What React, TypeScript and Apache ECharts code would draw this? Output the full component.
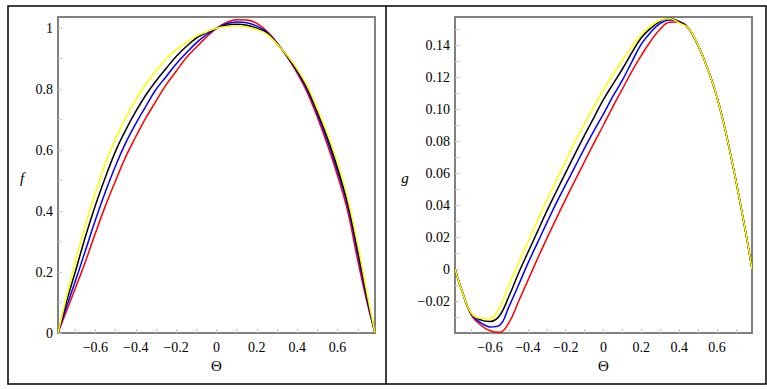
import React, { useEffect, useRef } from "react";
import * as echarts from "echarts";

const Q = Math.PI / 4;

const theta: number[] = [-Q, -0.75, -0.7, -0.65, -0.6, -0.55, -0.5, -0.45, -0.4, -0.35, -0.3, -0.25, -0.2, -0.15, -0.1, -0.05, 0, 0.05, 0.1, 0.15, 0.2, 0.25, 0.3, 0.35, 0.4, 0.45, 0.5, 0.55, 0.6, 0.65, 0.7, 0.75, Q];

// f(Θ) values
const fRed: number[] = [0, 0.061, 0.146, 0.233, 0.328, 0.418, 0.5, 0.578, 0.644, 0.706, 0.761, 0.814, 0.859, 0.903, 0.938, 0.971, 1, 1.019, 1.028, 1.027, 1.016, 0.99, 0.953, 0.906, 0.853, 0.789, 0.708, 0.617, 0.516, 0.4, 0.238, 0.09, 0];
const fBlue: number[] = [0, 0.073, 0.169, 0.27, 0.371, 0.464, 0.549, 0.624, 0.687, 0.744, 0.799, 0.841, 0.883, 0.919, 0.952, 0.979, 1, 1.015, 1.021, 1.018, 1.007, 0.987, 0.951, 0.909, 0.858, 0.798, 0.719, 0.631, 0.531, 0.417, 0.259, 0.097, 0];
const fBlack: number[] = [0, 0.088, 0.2, 0.315, 0.419, 0.512, 0.597, 0.666, 0.727, 0.781, 0.827, 0.868, 0.907, 0.94, 0.968, 0.986, 1, 1.01, 1.013, 1.01, 1.0, 0.984, 0.949, 0.909, 0.862, 0.806, 0.727, 0.642, 0.543, 0.429, 0.275, 0.106, 0];
const fYellow: number[] = [0, 0.1, 0.233, 0.353, 0.46, 0.557, 0.638, 0.706, 0.765, 0.817, 0.86, 0.9, 0.93, 0.954, 0.974, 0.988, 1, 1.006, 1.008, 1.004, 0.996, 0.981, 0.948, 0.911, 0.866, 0.81, 0.735, 0.652, 0.557, 0.441, 0.289, 0.116, 0];

// g(Θ) values
const gRed: number[] = [0, -0.0132, -0.0285, -0.035, -0.0386, -0.0396, -0.0335, -0.0205, -0.0072, 0.0062, 0.019, 0.0315, 0.0437, 0.0555, 0.0672, 0.0788, 0.09, 0.1015, 0.1125, 0.1235, 0.1335, 0.1425, 0.15, 0.1542, 0.1543, 0.1505, 0.1398, 0.1255, 0.1075, 0.0837, 0.0554, 0.0243, 0];
const gBlue: number[] = [0, -0.0132, -0.0282, -0.0335, -0.0362, -0.0352, -0.0235, -0.0102, 0.0035, 0.0162, 0.0288, 0.0412, 0.0527, 0.0641, 0.0756, 0.0865, 0.097, 0.108, 0.118, 0.1295, 0.1405, 0.148, 0.1535, 0.1557, 0.1548, 0.1505, 0.1398, 0.1255, 0.1075, 0.0837, 0.0554, 0.0243, 0];
const gBlack: number[] = [0, -0.0132, -0.0277, -0.0318, -0.0328, -0.0292, -0.017, -0.0028, 0.0103, 0.0232, 0.0362, 0.0483, 0.0602, 0.0721, 0.0837, 0.0948, 0.106, 0.1155, 0.125, 0.1352, 0.1445, 0.1505, 0.1548, 0.1567, 0.1545, 0.1505, 0.1398, 0.1255, 0.1075, 0.0837, 0.0554, 0.0243, 0];
const gYellow: number[] = [0, -0.0132, -0.0275, -0.0308, -0.031, -0.0241, -0.010, 0.0036, 0.0167, 0.0301, 0.043, 0.0552, 0.0675, 0.08, 0.091, 0.1015, 0.112, 0.1215, 0.1305, 0.139, 0.1465, 0.152, 0.1555, 0.1566, 0.1538, 0.1505, 0.1398, 0.1255, 0.1075, 0.0837, 0.0554, 0.0243, 0];

const xLabels = [-0.6, -0.4, -0.2, 0, 0.2, 0.4, 0.6];
const xTicks = [-0.7, -0.6, -0.5, -0.4, -0.3, -0.2, -0.1, 0, 0.1, 0.2, 0.3, 0.4, 0.5, 0.6, 0.7];
const fLabels = [0, 0.2, 0.4, 0.6, 0.8, 1];
const fTicks = [0, 0.1, 0.2, 0.3, 0.4, 0.5, 0.6, 0.7, 0.8, 0.9, 1];
const gLabels = [-0.02, 0, 0.02, 0.04, 0.06, 0.08, 0.1, 0.12, 0.14];
const gTicks = [-0.03, -0.02, -0.01, 0, 0.01, 0.02, 0.03, 0.04, 0.05, 0.06, 0.07, 0.08, 0.09, 0.1, 0.11, 0.12, 0.13, 0.14, 0.15];

const SERIF = "Liberation Serif, Times New Roman, DejaVu Serif, serif";
const minus = (s: string) => s.replace("-", "\u2212");
const pairs = (ys: number[]) => theta.map((t, i) => [t, ys[i]]);

export default function App() {
  const ref = useRef<HTMLDivElement>(null);
  useEffect(() => {
    if (!ref.current) return;
    const chart = echarts.init(ref.current, undefined, { renderer: "svg" });
    const labelStyle = { color: "#000", fontFamily: SERIF, fontSize: 14 };
    const tickStyle = { color: "#c8c8c8", width: 1 };
    const xAxis = (gridIndex: number) => ({
      type: "value",
      gridIndex,
      min: -Q,
      max: Q,
      name: "\u0398",
      nameLocation: "middle",
      nameGap: 23,
      nameTextStyle: { color: "#000", fontFamily: SERIF, fontSize: 15 },
      axisLine: { show: false, onZero: false },
      splitLine: { show: false },
      axisTick: { show: true, inside: true, length: 4, lineStyle: tickStyle, customValues: xTicks },
      axisLabel: {
        ...labelStyle,
        margin: 7,
        customValues: xLabels,
        formatter: (v: number) => minus(v === 0 ? "0" : String(+v.toFixed(1))),
      },
    });
    const yCommon = {
      type: "value",
      axisLine: { show: false, onZero: false },
      splitLine: { show: false },
    };
    const series = (ys: number[], color: string, idx: number) => ({
      type: "line",
      data: pairs(ys),
      xAxisIndex: idx,
      yAxisIndex: idx,
      showSymbol: false,
      smooth: 0.4,
      lineStyle: { color, width: 1.5 },
      itemStyle: { color },
    });
    chart.setOption({
      animation: false,
      backgroundColor: "#fff",
      textStyle: { fontFamily: SERIF },
      grid: [
        { left: 58, top: 17, width: 317, height: 316, show: true, borderColor: "#808080", borderWidth: 2, backgroundColor: "transparent" },
        { left: 455, top: 17, width: 297, height: 316, show: true, borderColor: "#808080", borderWidth: 2, backgroundColor: "transparent" },
      ],
      xAxis: [xAxis(0), xAxis(1)],
      yAxis: [
        {
          ...yCommon,
          gridIndex: 0,
          min: 0,
          max: 1.037,
          axisTick: { show: true, inside: true, length: 4, lineStyle: tickStyle, customValues: fTicks },
          axisLabel: {
            ...labelStyle,
            margin: 5,
            customValues: fLabels,
            formatter: (v: number) => String(+v.toFixed(1)),
          },
        },
        {
          ...yCommon,
          gridIndex: 1,
          min: -0.04,
          max: 0.1575,
          axisTick: { show: true, inside: true, length: 4, lineStyle: tickStyle, customValues: gTicks },
          axisLabel: {
            ...labelStyle,
            margin: 5,
            customValues: gLabels,
            formatter: (v: number) => minus(Math.abs(v) < 1e-9 ? "0" : v.toFixed(2)),
          },
        },
      ],
      graphic: [
        { type: "rect", shape: { x: 8, y: 6, width: 758, height: 378 }, style: { fill: "none", stroke: "#000", lineWidth: 1.5 }, silent: true },
        { type: "line", shape: { x1: 386, y1: 6, x2: 386, y2: 384 }, style: { stroke: "#000", lineWidth: 1.5 }, silent: true },
        { type: "text", x: 22, y: 178, style: { text: "f", fontFamily: SERIF, fontStyle: "italic", fontSize: 15, fill: "#000", align: "center", verticalAlign: "middle" } },
        { type: "text", x: 405, y: 178, style: { text: "g", fontFamily: SERIF, fontStyle: "italic", fontSize: 15, fill: "#000", align: "center", verticalAlign: "middle" } },
      ],
      series: [
        series(fRed, "#ff0000", 0),
        series(fBlue, "#0000ff", 0),
        series(fBlack, "#000000", 0),
        series(fYellow, "#ffff00", 0),
        series(gRed, "#ff0000", 1),
        series(gBlue, "#0000ff", 1),
        series(gBlack, "#000000", 1),
        series(gYellow, "#ffff00", 1),
      ],
    });
    return () => chart.dispose();
  }, []);
  return (
    <div
      ref={ref}
      style={{ position: "absolute", left: 0, top: 0, width: 767, height: 389, background: "#fff" }}
    />
  );
}
